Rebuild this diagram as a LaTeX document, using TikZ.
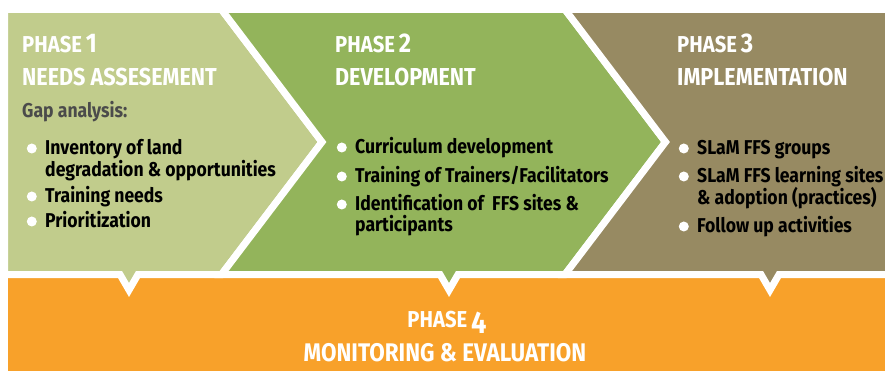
\documentclass[tikz,border=0pt]{standalone}
\usepackage{fontspec}
\setmainfont{Fira Sans}[FakeStretch=0.88]
\usetikzlibrary{positioning}
\definecolor{needs}{RGB}{193,204,140}
\definecolor{devel}{RGB}{147,180,91}
\definecolor{implem}{RGB}{151,138,98}
\definecolor{monit}{RGB}{248,161,42}
\definecolor{gapgray}{RGB}{75,75,75}
\newcommand{\phasenum}[1]{{\fontsize{27}{27}\selectfont #1}}

\begin{document}
\begin{tikzpicture}[x=1pt,y=-1pt,
        gap/.style={draw=white,line width=7pt},
        head/.style={anchor=base west,text=white,inner sep=0pt,font=\bfseries\fontsize{23}{23}\selectfont},
        phasename/.style={head,font=\bfseries\fontsize{24.5}{24.5}\selectfont},
        item/.style={anchor=base west,inner sep=0pt,text height=16pt,text depth=3pt,font=\bfseries\fontsize{20}{20}\selectfont},
        dot/.style={label={[circle,fill=white,inner sep=0pt,minimum size=10pt,label distance=8pt]left:{}}}]
        \useasboundingbox (0,0) rectangle (885,371);
        % phase 4 bar
        \fill[monit] (8,274.5) rectangle (890,375);
        % chevrons
        \filldraw[gap,fill=needs] (4.5,9.5) -- (221.5,9.5) -- (322,142) -- (221.5,274.5)
                -- (138,274.5) -- (129,290) -- (120,274.5) -- (4.5,274.5) -- cycle;
        \filldraw[gap,fill=devel] (221.5,9.5) -- (565,9.5) -- (665.5,142) -- (565,274.5)
                -- (458,274.5) -- (449,290) -- (440,274.5) -- (221.5,274.5) -- (322,142) -- cycle;
        \filldraw[gap,fill=implem] (565,9.5) -- (895,9.5) -- (895,274.5)
                -- (779,274.5) -- (770,290) -- (761,274.5) -- (565,274.5) -- (665.5,142) -- cycle;
        % phase 1
        \node[head] (p1) at (22,53) {PHASE\,\phasenum{1}};
        \node[phasename] (p1name) at (22,86) {NEEDS ASSESEMENT};
        \node[item,text=gapgray] (p1gap) at (22,118) {Gap analysis:};
        \node[item,dot] (p1a) at (45,155) {Inventory of land};
        \node[item] (p1b) at (45,177) {degradation \& opportunities};
        \node[item,dot] (p1c) at (45,203) {Training needs};
        \node[item,dot] (p1d) at (45,228) {Prioritization};
        % phase 2
        \node[head] (p2) at (335,53) {PHASE\,\phasenum{2}};
        \node[phasename] (p2name) at (335,86) {DEVELOPMENT};
        \node[item,dot] (p2a) at (355,154) {Curriculum development};
        \node[item,dot] (p2b) at (355,183) {Training of Trainers/Facilitators};
        \node[item,dot] (p2c) at (355,211) {Identification of\ \ FFS sites \&};
        \node[item] (p2d) at (355,232) {participants};
        % phase 3
        \node[head] (p3) at (677,53) {PHASE\,\phasenum{3}};
        \node[phasename] (p3name) at (677,86) {IMPLEMENTATION};
        \node[item,dot] (p3a) at (697,155) {SLaM FFS groups};
        \node[item,dot] (p3b) at (697,183) {SLaM FFS learning sites};
        \node[item] (p3c) at (697,205) {\& adoption (practices)};
        \node[item,dot] (p3d) at (697,233) {Follow up activities};
        % phase 4
        \node[head,anchor=base] (p4) at (447,327) {PHASE\,\raisebox{-6pt}{\fontsize{31}{31}\selectfont 4}};
        \node[phasename,anchor=base,font=\bfseries\fontsize{25.5}{25.5}\selectfont] (p4name) at (445,361) {MONITORING \& EVALUATION};
\end{tikzpicture}
\end{document}
